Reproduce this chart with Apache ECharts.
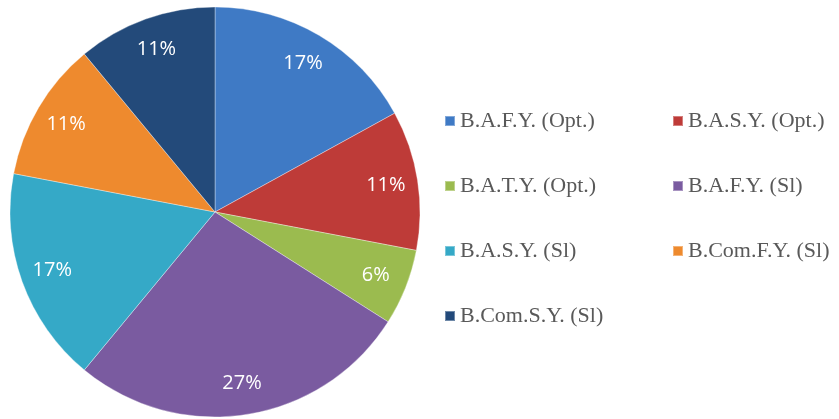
<!DOCTYPE html>
<html>
<head>
<meta charset="utf-8">
<script src="https://cdn.jsdelivr.net/npm/echarts@6/dist/echarts.min.js"></script>
<style>
  html, body { margin: 0; padding: 0; background: #fff; }
  #chart { width: 839px; height: 419px; }
</style>
</head>
<body>
<div id="chart"></div>
<script>
// 类别与数值（百分比）
const categories = ['B.A.F.Y. (Opt.)', 'B.A.S.Y. (Opt.)', 'B.A.T.Y. (Opt.)', 'B.A.F.Y. (Sl)', 'B.A.S.Y. (Sl)', 'B.Com.F.Y. (Sl)', 'B.Com.S.Y. (Sl)']
const values = [17, 11, 6, 27, 17, 11, 11]
const colors = ['#3F7AC5', '#BE3B38', '#9BBB4F', '#7A5BA0', '#35A9C7', '#EE8A2E', '#234A7A']

const chart = echarts.init(document.getElementById('chart'))

const pieData = categories.map((name, i) => ({
  name,
  value: values[i],
  itemStyle: {color: colors[i]}
}))

const legendBase = {
  orient: 'vertical',
  icon: 'rect',
  itemWidth: 10,
  itemHeight: 10,
  itemGap: 43,
  textStyle: {fontFamily: 'Liberation Serif', fontSize: 22, color: '#595959', lineHeight: 22},
  selectedMode: false
}

const option = {
  animation: false,
  legend: [
    Object.assign({}, legendBase, {left: 439, top: 105, data: [categories[0], categories[2], categories[4], categories[6]]}),
    Object.assign({}, legendBase, {left: 667, top: 105, data: [categories[1], categories[3], categories[5]]})
  ],
  series: [
    {
      type: 'pie',
      center: [215, 212],
      radius: [0, 205],
      startAngle: 90,
      silent: true,
      label: {show: false},
      labelLine: {show: false},
      itemStyle: {borderColor: 'rgba(255,255,255,0.35)', borderWidth: 1},
      data: pieData
    },
    {
      // 透明外环，只用来放标签
      type: 'pie',
      center: [215, 212],
      radius: [135, 205],
      startAngle: 90,
      silent: true,
      itemStyle: {color: 'transparent'},
      label: {
        show: true,
        position: 'inside',
        formatter: '{c}%',
        color: '#fff',
        fontFamily: 'Open Sans',
        fontSize: 20
      },
      labelLine: {show: false},
      data: categories.map((name, i) => ({name, value: values[i]}))
    }
  ]
}

chart.setOption(option)
</script>
</body>
</html>
